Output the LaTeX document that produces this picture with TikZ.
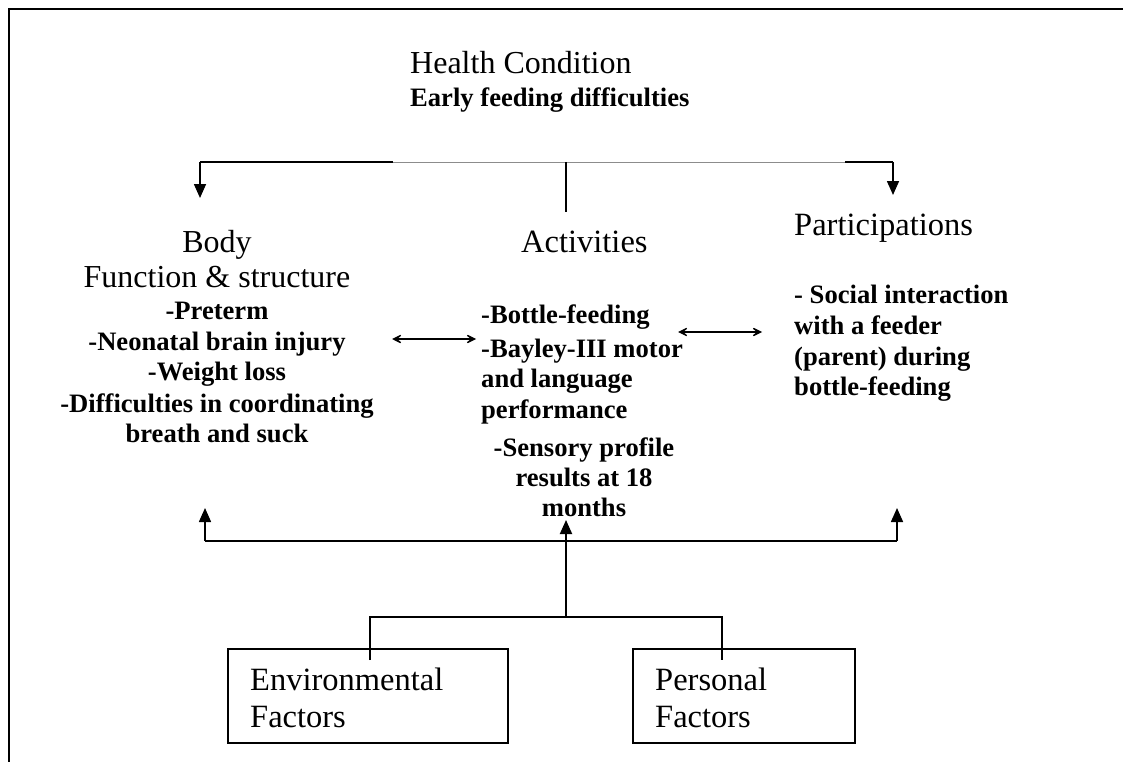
\documentclass[tikz,border=0pt]{standalone}
\usepackage{fontspec}
\setmainfont{Liberation Serif}
\usetikzlibrary{arrows.meta}
\begin{document}
\begin{tikzpicture}[x=1pt,y=-1pt,
  reg/.style={inner sep=0pt, font=\fontsize{32}{38}\selectfont},
  bld/.style={inner sep=0pt, font=\fontsize{26.6}{31}\selectfont\bfseries},
  cam/.style={inner sep=0pt, font=\fontsize{32.5}{38}\selectfont},
  conn/.style={line width=1.6pt, draw=black},
  tri/.style={-{Triangle[length=14pt,width=12pt]}},
  dbl/.style={{Stealth[length=14pt,width=14pt,inset=9pt]}-{Stealth[length=14pt,width=14pt,inset=9pt]}, line width=1.5pt},
  factorbox/.style={draw, line width=1.7pt, inner sep=0pt, minimum height=94pt}
]
\useasboundingbox (0,0) rectangle (1123,762);
% frame
\coordinate (fa) at (1123,9);
\coordinate (fb) at (9,9);
\coordinate (fc) at (9,762);
\draw[line width=2.2pt] (fa) -- (fb) -- (fc);

% health condition
\node[reg, anchor=base west] (hc) at (410,74) {Health Condition};
\node[bld, anchor=base west] (efd) at (410,107) {Early feeding difficulties};

% top connector
\coordinate (tl) at (200,162);
\coordinate (tm1) at (393,162);
\coordinate (tm2) at (845,162);
\coordinate (tr) at (893,162);
\coordinate (tc) at (566,162);
\coordinate (tcb) at (566,212);
\coordinate (bodytop) at (200,198);
\coordinate (parttop) at (893,195);
\draw[line width=0.9pt, draw=black!45] (tm1) -- (tm2);
\draw[conn] (tm1) -- (tl);
\draw[conn] (tm2) -- (tr);
\draw[conn,tri] (tl) -- (bodytop);
\draw[conn,tri] (tr) -- (parttop);
\draw[line width=1.3pt] (tc) -- (tcb);

% body column
\node[reg, anchor=base] (body) at (217,252) {Body};
\node[reg, anchor=base] (bfs) at (217,287) {Function \& structure};
\node[bld, anchor=base] (b1) at (217,319) {-Preterm};
\node[bld, anchor=base] (b2) at (217,350) {-Neonatal brain injury};
\node[bld, anchor=base] (b3) at (217,380) {-Weight loss};
\node[bld, anchor=base] (b4) at (217,412) {-Difficulties in coordinating};
\node[bld, anchor=base] (b5) at (217,442) {breath and suck};

% activities column
\node[cam, anchor=base west] (act) at (521,252) {Activities};
\node[bld, anchor=base west] (a1) at (481,323) {-Bottle-feeding};
\node[bld, anchor=base west] (a2) at (481,357) {-Bayley-III motor};
\node[bld, anchor=base west] (a3) at (481,387) {and language};
\node[bld, anchor=base west] (a4) at (481,418) {performance};
\node[bld, anchor=base] (a5) at (584,456) {-Sensory profile};
\node[bld, anchor=base] (a6) at (584,486) {results at 18};
\node[bld, anchor=base] (a7) at (584,516) {months};

% participations column
\node[cam, anchor=base west] (part) at (794,235) {Participations};
\node[bld, anchor=base west] (p1) at (794,303) {- Social interaction};
\node[bld, anchor=base west] (p2) at (794,334) {with a feeder};
\node[bld, anchor=base west] (p3) at (794,365) {(parent) during};
\node[bld, anchor=base west] (p4) at (794,395) {bottle-feeding};

% double arrows
\coordinate (da1) at (392,339);
\coordinate (da2) at (476,339);
\coordinate (db1) at (678,332);
\coordinate (db2) at (762,332);
\draw[dbl] (da1) -- (da2);
\draw[dbl] (db1) -- (db2);

% factor boxes
\node[factorbox, minimum width=280pt] (env) at (368,696) {};
\node[factorbox, minimum width=222pt] (pers) at (744,696) {};
\node[cam, anchor=base west] (env1) at (250,690) {Environmental};
\node[cam, anchor=base west] (env2) at (250,727) {Factors};
\node[cam, anchor=base west] (pers1) at (655,690) {Personal};
\node[cam, anchor=base west] (pers2) at (655,727) {Factors};

% bottom connectors
\coordinate (ej) at (370,617);
\coordinate (es) at (370,660);
\coordinate (pj) at (722,617);
\coordinate (ps) at (722,660);
\coordinate (mj) at (566,617);
\coordinate (mt) at (566,520);
\coordinate (ul) at (205,541);
\coordinate (ur) at (897,541);
\coordinate (ult) at (205,508);
\coordinate (urt) at (897,508);
\draw[conn] (es) -- (ej) -- (pj) -- (ps);
\draw[conn, line width=1.9pt, tri] (mj) -- (mt);
\draw[conn, tri] (ul) -- (ult);
\draw[conn, tri] (ur) -- (urt);
\draw[conn] (ul) -- (ur);
\end{tikzpicture}
\end{document}
